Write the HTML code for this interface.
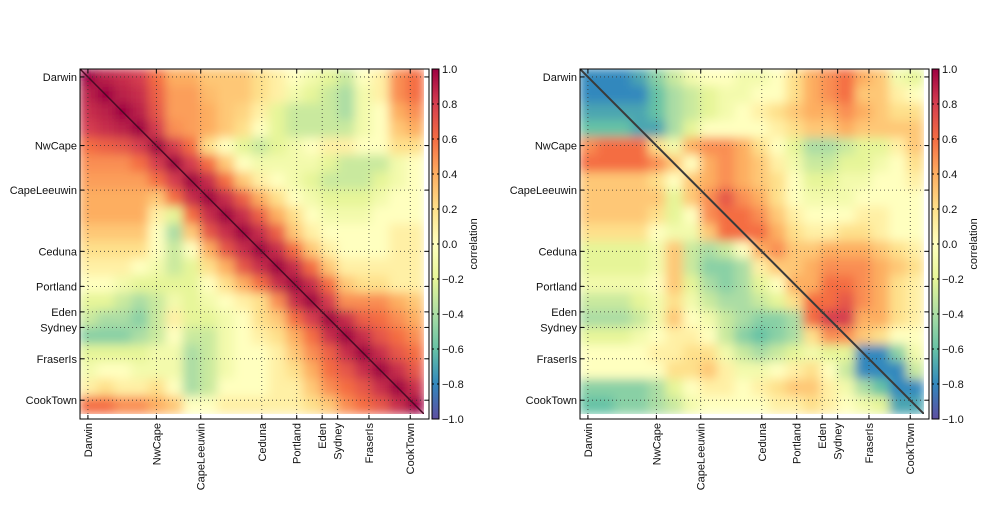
<!DOCTYPE html>
<html><head><meta charset="utf-8"><style>
body{margin:0;background:#fff;}
svg text{font-family:"Liberation Sans",sans-serif;font-size:11px;fill:#111;}
</style></head><body>
<svg id="fig" width="1000" height="500" xmlns="http://www.w3.org/2000/svg">
<defs>
<filter id="blur" x="0" y="0" width="1" height="1"><feGaussianBlur stdDeviation="5" edgeMode="duplicate"/></filter>
<linearGradient id="cmap" x1="0" y1="1" x2="0" y2="0">
<stop offset="0" stop-color="#5e4fa2"/><stop offset="0.1" stop-color="#3288bd"/><stop offset="0.2" stop-color="#66c2a5"/><stop offset="0.3" stop-color="#abdda4"/><stop offset="0.4" stop-color="#e6f598"/><stop offset="0.5" stop-color="#ffffbf"/><stop offset="0.6" stop-color="#fee08b"/><stop offset="0.7" stop-color="#fdae61"/><stop offset="0.8" stop-color="#f46d43"/><stop offset="0.9" stop-color="#d53e4f"/><stop offset="1" stop-color="#9e0142"/>
</linearGradient>
</defs>
</svg>
<script>
const stations=["Darwin","NwCape","CapeLeeuwin","Ceduna","Portland","Eden","Sydney","FraserIs","CookTown"];
const stationPos=[0.46,4.44,7.02,10.57,12.6,14.08,14.98,16.8,19.2];
const cbTicks=[1.0,0.8,0.6,0.4,0.2,0.0,-0.2,-0.4,-0.6,-0.8,-1.0];
const cbLabels=["1.0","0.8","0.6","0.4","0.2","0.0","\u22120.2","\u22120.4","\u22120.6","\u22120.8","\u22121.0"];
const leftMatrix=[
[1,.9,.85,.8,.6,.4,.4,.3,.3,.3,.2,.1,0,-.1,-.2,-.3,0,.1,.5,.6],
[.9,1,.9,.85,.65,.45,.45,.35,.3,.3,.2,.1,-.1,-.2,-.3,-.4,-.1,.1,.5,.6],
[.85,.9,1,.9,.7,.45,.45,.4,.3,.25,.1,-.2,-.3,-.3,-.3,-.4,-.1,0,.4,.5],
[.8,.85,.9,1,.8,.5,.45,.4,.3,.2,0,-.2,-.3,-.3,-.3,-.3,-.1,0,.3,.4],
[.6,.65,.7,.8,1,.8,.6,.2,0,-.2,-.3,-.2,-.1,0,.1,.1,0,0,.2,.2],
[.5,.5,.5,.6,.8,1,.8,.6,.3,0,-.1,-.1,-.1,-.1,-.2,-.3,-.3,-.3,-.1,0],
[.45,.45,.45,.45,.6,.8,1,.85,.6,.3,.1,0,-.1,-.2,-.3,-.3,-.3,-.2,-.1,0],
[.4,.4,.4,.4,.3,.6,.85,1,.85,.65,.4,.2,0,-.1,-.2,-.2,-.2,-.1,0,0],
[.4,.4,.4,.4,.1,-.2,.6,.85,1,.85,.65,.4,.2,0,-.1,-.1,-.1,0,0,0],
[.3,.3,.3,.3,0,-.4,.3,.7,.85,1,.85,.65,.3,.1,0,0,0,0,.1,.1],
[.2,.2,.2,.2,0,-.3,0,.4,.7,.85,1,.85,.6,.3,.1,0,0,0,.1,.1],
[.1,.1,.1,0,-.1,-.3,-.2,.2,.4,.7,.85,1,.85,.6,.3,.1,.1,.1,.1,.1],
[0,0,-.1,-.2,-.2,-.2,-.2,0,.2,.4,.6,.85,1,.85,.6,.3,.2,.2,.1,.1],
[-.2,-.2,-.3,-.4,-.3,-.1,-.2,-.1,0,.1,.2,.5,.85,1,.8,.5,.5,.5,.4,.3],
[-.3,-.4,-.4,-.5,-.3,.1,-.2,-.2,-.1,0,.2,.3,.6,.8,1,.85,.65,.6,.5,.4],
[-.5,-.5,-.5,-.4,-.3,0,-.3,-.3,-.1,0,.1,.2,.4,.6,.85,1,.85,.7,.6,.5],
[-.2,-.2,-.2,-.2,-.1,-.1,-.4,-.3,-.1,0,0,.1,.3,.5,.65,.85,1,.85,.7,.6],
[-.1,0,0,-.1,-.1,-.1,-.4,-.3,-.1,0,0,.1,.2,.4,.6,.7,.85,1,.85,.7],
[.1,.2,.1,.1,.2,0,-.4,-.3,0,0,0,.1,.1,.3,.5,.6,.7,.85,1,.85],
[.6,.6,.5,.5,.4,.3,0,0,.1,.1,.1,.1,.1,.2,.3,.5,.6,.7,.85,1]];
const rightMatrix=[
[-.8,-.8,-.8,-.7,-.5,-.3,-.1,0,0,-.1,-.1,0,.2,.4,.5,.6,.4,.3,-.1,-.2],
[-.8,-.8,-.8,-.8,-.6,-.4,-.3,-.2,-.1,-.1,0,0,.2,.4,.5,.6,.3,.3,.1,0],
[-.7,-.7,-.7,-.7,-.6,-.4,-.3,-.2,-.1,0,.1,.2,.3,.4,.4,.5,.4,.3,.2,.2],
[-.6,-.6,-.6,-.7,-.7,-.4,-.2,0,0,0,0,.1,.2,.3,.3,.4,.3,.3,.3,.3],
[.5,.6,.6,.6,.2,-.1,.4,.5,.5,.4,.2,0,-.2,-.4,-.4,-.3,-.2,-.2,.1,.3],
[.6,.6,.6,.6,.5,.3,0,.4,.5,.4,.3,.1,-.1,-.3,-.3,-.2,-.2,-.1,0,.2],
[.3,.3,.3,.3,.2,0,.3,.4,.5,.4,.3,.2,0,-.2,-.2,-.1,-.1,0,0,.1],
[.3,.3,.3,.3,.3,-.2,.3,.5,.7,.5,.4,.2,0,-.1,-.1,-.1,0,0,0,0],
[.3,.3,.3,.3,.2,-.2,0,.5,.6,.6,.5,.3,.1,0,0,0,.1,.1,0,0],
[.2,.2,.2,.2,0,-.1,-.1,.3,.6,.6,.6,.4,.2,.1,.1,.2,.2,.1,0,0],
[-.2,-.2,-.2,-.2,-.1,.3,-.3,-.4,-.3,0,.4,.5,.3,.3,.4,.4,.4,.3,.2,.1],
[-.2,-.2,-.2,-.2,-.1,.3,-.3,-.5,-.5,-.4,.1,.3,.3,.4,.5,.5,.5,.4,.3,.2],
[-.1,-.1,-.1,-.1,0,.3,-.2,-.4,-.5,-.4,-.2,0,.4,.4,.6,.6,.5,.4,.2,.1],
[-.3,-.3,-.3,-.2,-.1,.2,-.1,-.3,-.4,-.4,-.3,-.2,.2,.6,.6,.7,.5,.4,.2,.1],
[-.4,-.4,-.4,-.3,-.1,.3,0,-.1,-.3,-.4,-.5,-.5,-.4,.6,.8,.8,.4,.4,.2,.1],
[-.2,-.2,-.2,-.1,0,.1,.1,0,-.3,-.5,-.6,-.5,-.4,.2,.5,.5,.3,.2,0,0],
[0,0,0,0,.1,.1,.2,.2,-.1,-.3,-.4,-.3,-.2,-.1,-.2,-.2,-.8,-.8,-.5,-.1],
[0,0,0,0,0,.2,.2,.3,.1,-.1,-.1,0,.1,.2,0,-.3,-.8,-.8,-.8,-.3],
[-.5,-.5,-.5,-.5,-.4,-.2,0,.1,.1,0,.1,.2,.3,.3,.1,-.1,-.4,-.6,-.8,-.8],
[-.6,-.6,-.5,-.5,-.4,-.3,-.1,0,0,0,0,.1,.1,.2,.1,0,-.1,-.2,-.7,-.7]];

const NS="http://www.w3.org/2000/svg";
const svg=document.getElementById('fig');
const stops=[[94,79,162],[50,136,189],[102,194,165],[171,221,164],[230,245,152],[255,255,191],[254,224,139],[253,174,97],[244,109,67],[213,62,79],[158,1,66]];
function cmap(v){let t=(Math.max(-1,Math.min(1,v))+1)/2*10;let i=Math.min(9,Math.floor(t)),f=t-i;const a=stops[i],b=stops[i+1];return `rgb(${a.map((c,k)=>Math.round(c+(b[k]-c)*f)).join(',')})`;}
function el(tag,attrs,parent){const e=document.createElementNS(NS,tag);for(const k in attrs)e.setAttribute(k,attrs[k]);(parent||svg).appendChild(e);return e;}

function drawPanel(ox,matrix,diagColor,diagW,prefix){
  const X0=80+ox,Y0=69,W=344,H=345,AW=349,AH=350,n=matrix.length;
  const xs=u=>X0+u*W/n, ys=u=>Y0+u*H/n;
  const g=el('g',{});
  
  
  const cid=prefix+'clip';
  const cp=el('clipPath',{id:cid},svg.querySelector('defs'));
  el('rect',{x:X0,y:Y0,width:W,height:H},cp);
  const hm=el('g',{'clip-path':`url(#${cid})`},g);
  
  
  const hb=el('g',{filter:'url(#blur)'},hm);
  matrix.forEach((row,r)=>row.forEach((v,c)=>{
    const rc=el('rect',{x:xs(c)-0.5,y:ys(r)-0.5,width:W/n+1,height:H/n+1,fill:cmap(v)},hb);
    
    
  }));
  const dl=el('line',{x1:xs(0),y1:ys(0),x2:xs(n),y2:ys(n),stroke:diagColor,'stroke-width':diagW},hm);
  
  
  // grid and ticks
  stationPos.forEach((p,i)=>{
    const x=xs(p),y=ys(p);
    el('line',{x1:x,y1:Y0,x2:x,y2:Y0+AH,stroke:'#333','stroke-width':0.8,'stroke-dasharray':'1,3'},g);
    el('line',{x1:X0,y1:y,x2:X0+AW,y2:y,stroke:'#333','stroke-width':0.8,'stroke-dasharray':'1,3'},g);
    el('line',{x1:x,y1:Y0+AH,x2:x,y2:Y0+AH-4,stroke:'#000'},g);
    el('line',{x1:x,y1:Y0,x2:x,y2:Y0+4,stroke:'#000'},g);
    el('line',{x1:X0,y1:y,x2:X0+4,y2:y,stroke:'#000'},g);
    el('line',{x1:X0+AW,y1:y,x2:X0+AW-4,y2:y,stroke:'#000'},g);
    const ty=el('text',{x:X0-3,y:y+4,'text-anchor':'end'},g);ty.textContent=stations[i];
    
    
    const tx=el('text',{x:0,y:0,'text-anchor':'end',transform:`translate(${x+4},${Y0+AH+4}) rotate(-90)`},g);tx.textContent=stations[i];
    
    
  });
  const fr=el('rect',{x:X0,y:Y0,width:AW,height:AH,fill:'none',stroke:'#000','stroke-width':1},g);
  
  
  // colorbar
  const CX=432+ox,CW=7,cy=v=>Y0+(1-v)/2*AH;
  const cb=el('rect',{x:CX,y:Y0,width:CW,height:AH,fill:'url(#cmap)',stroke:'#000','stroke-width':1},g);
  
  
  cbTicks.forEach((v,i)=>{
    el('line',{x1:CX+CW,y1:cy(v),x2:CX+CW-2,y2:cy(v),stroke:'#000'},g);
    el('line',{x1:CX,y1:cy(v),x2:CX+2,y2:cy(v),stroke:'#000'},g);
    const t=el('text',{x:CX+10,y:cy(v)+4},g);t.textContent=cbLabels[i];
    
    
  });
  const cl=el('text',{x:0,y:0,'text-anchor':'middle',transform:`translate(${477+ox},${Y0+AH/2}) rotate(-90)`},g);cl.textContent='correlation';
  
  
}
drawPanel(0,leftMatrix,'#4a0a24',1.5,'left');
drawPanel(500,rightMatrix,'#3a3a3a',2,'right');
</script>
</body></html>
